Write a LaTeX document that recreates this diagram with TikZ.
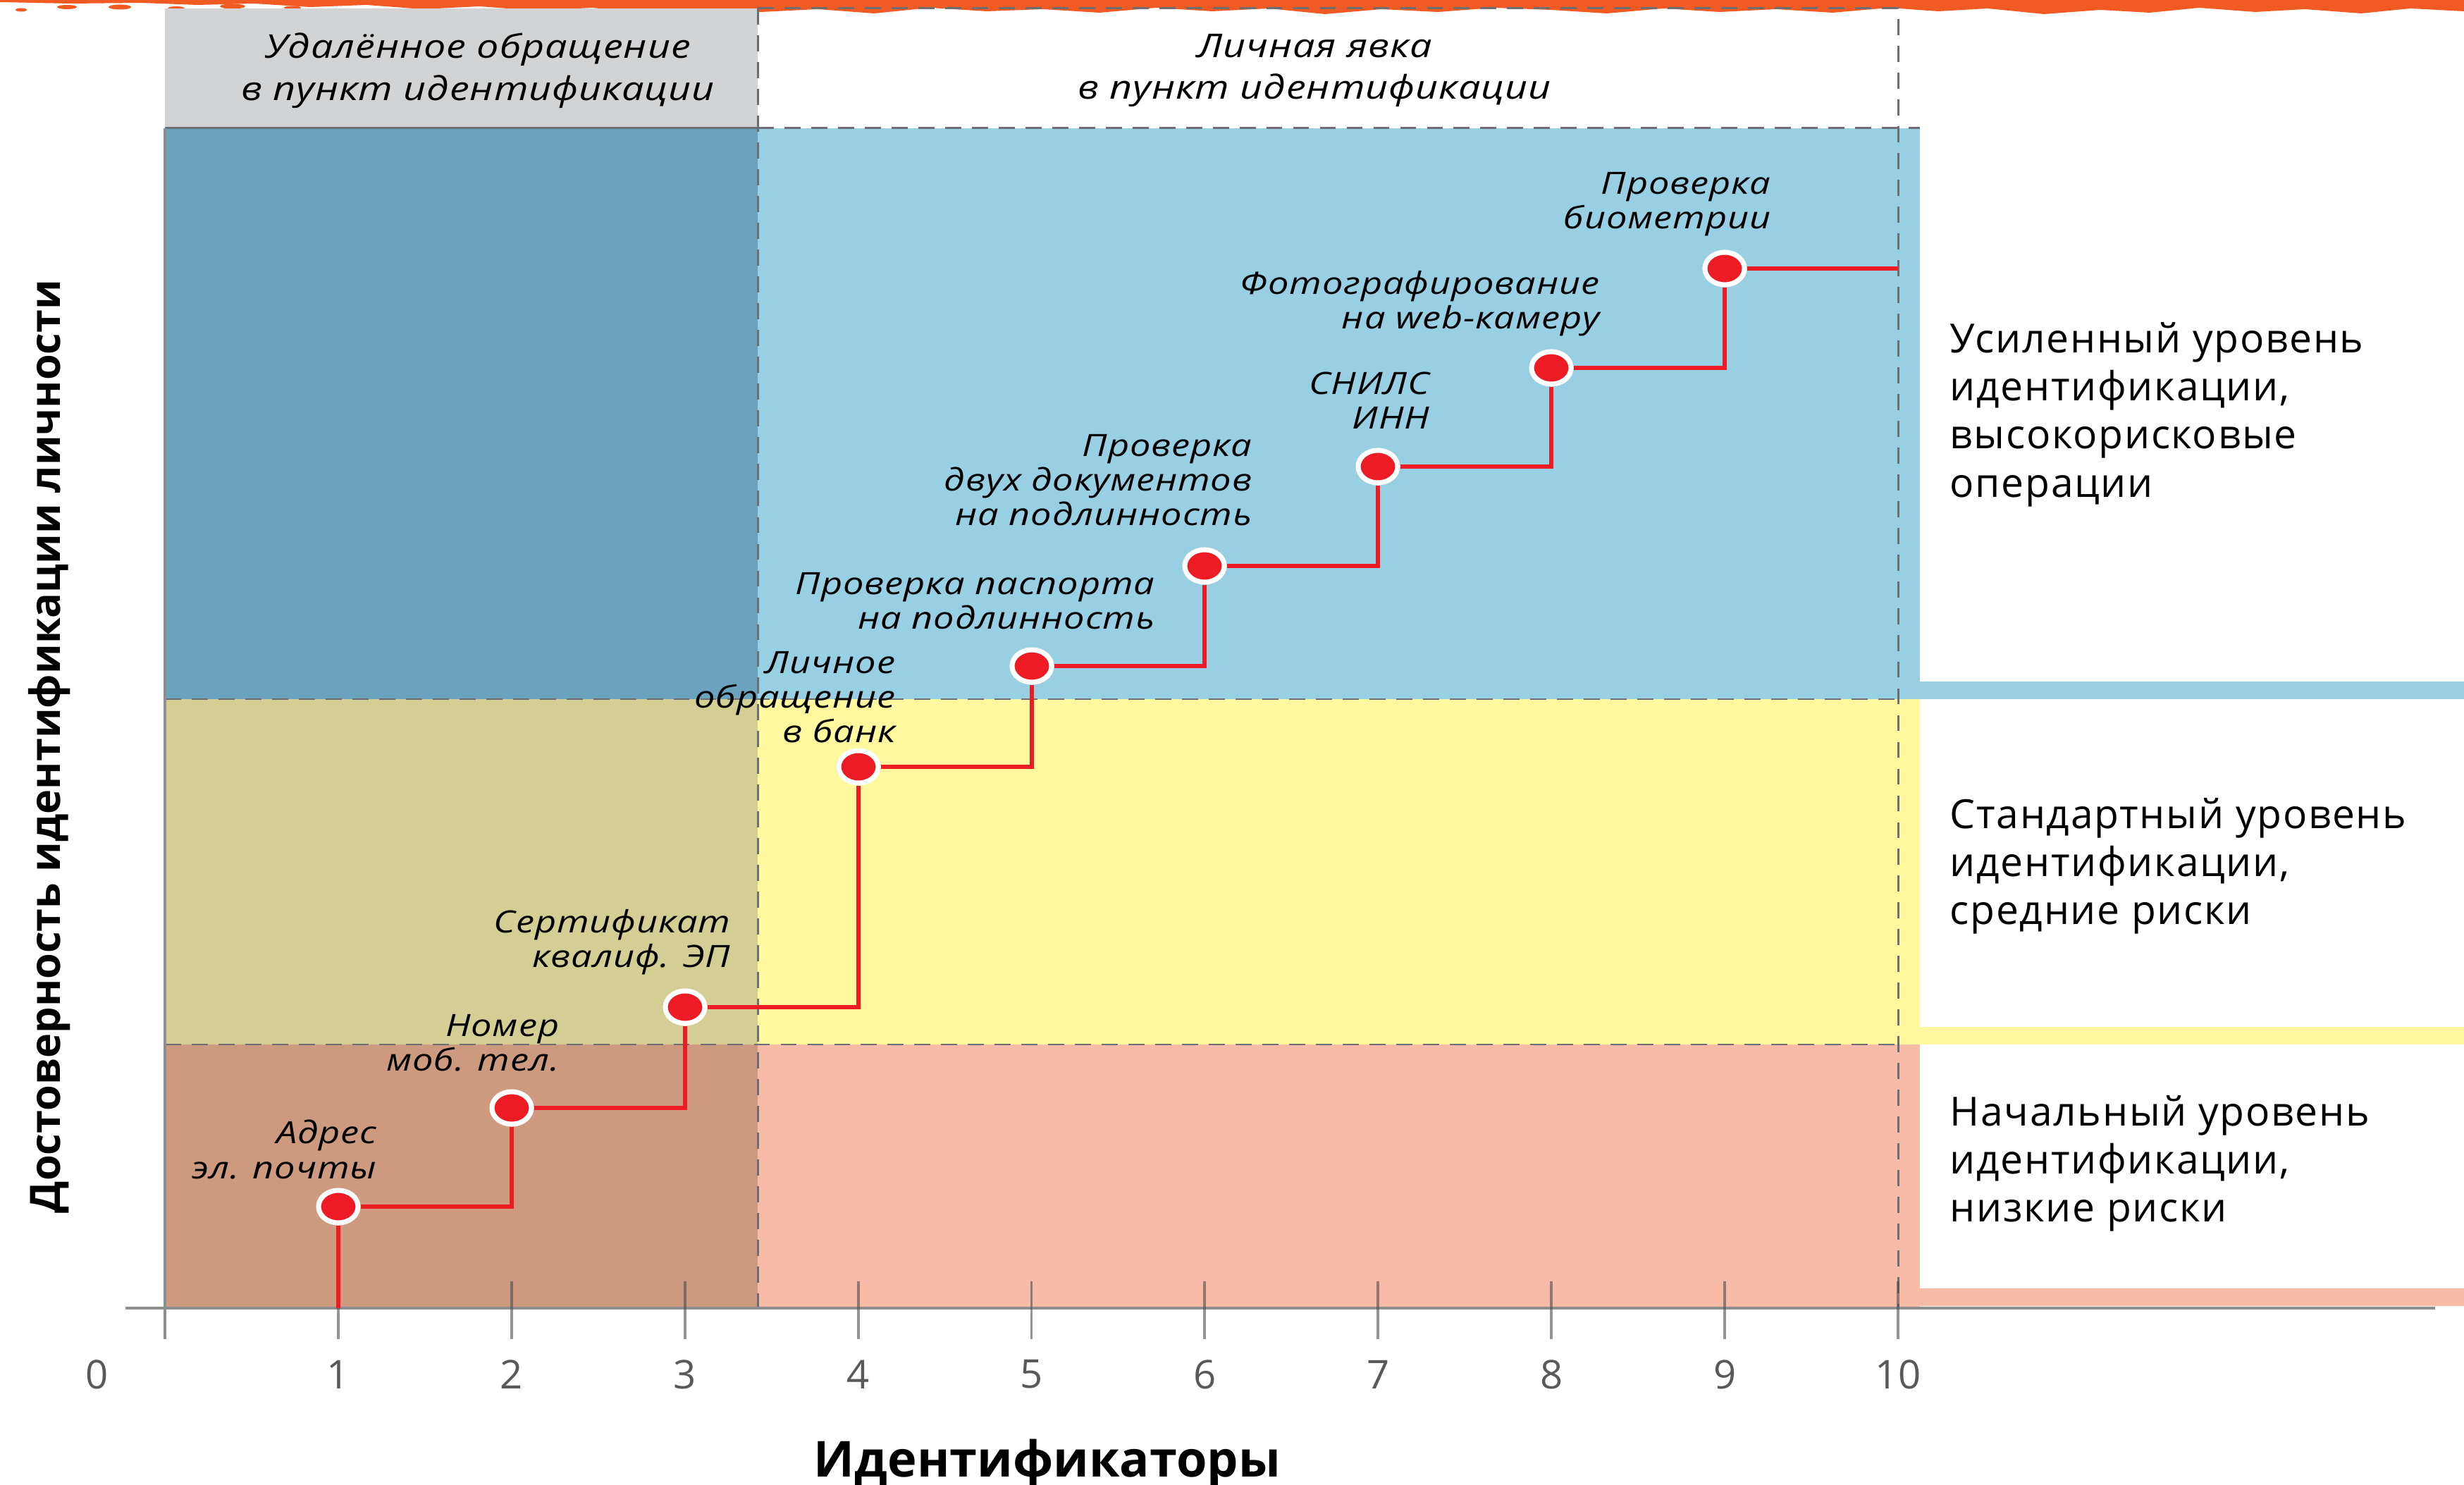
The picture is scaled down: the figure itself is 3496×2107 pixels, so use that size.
\documentclass[tikz,border=0pt]{standalone}
\usepackage{fontspec}
\setmainfont{Open Sans}
\newfontfamily\labfont[FakeStretch=1.2,LetterSpace=2]{Open Sans}
\newfontfamily\lvlfont[LetterSpace=3]{Open Sans}
\usetikzlibrary{shapes.geometric}
\definecolor{orng}{HTML}{F15A22}
\definecolor{hdrgray}{HTML}{D1D3D4}
\definecolor{dblue}{HTML}{6BA3BF}
\definecolor{lblue}{HTML}{99CFE3}
\definecolor{dyel}{HTML}{D4CE95}
\definecolor{lyel}{HTML}{FFF89F}
\definecolor{dpink}{HTML}{CE9A7F}
\definecolor{lpink}{HTML}{F8BBA8}
\definecolor{mred}{HTML}{ED1C24}
\definecolor{dashgray}{HTML}{6D6E71}
\definecolor{axgray}{HTML}{8C8E90}
\definecolor{numgray}{HTML}{58595B}
\definecolor{tickdark}{HTML}{4D4D4D}
\begin{document}
\begin{tikzpicture}[x=0.01cm,y=-0.01cm,
  dline/.style={dashgray,line width=0.85pt,dash pattern=on 6.5pt off 4.3pt},
  redline/.style={mred,line width=1.7pt},
  marker/.style={ellipse,fill=mred,draw=white,line width=2pt,minimum width=0.56cm,minimum height=0.46cm,inner sep=0pt},
  lab/.style={font=\labfont\itshape\fontsize{12.4}{14}\selectfont,align=right,anchor=east,inner sep=0pt},
  hdr/.style={font=\labfont\itshape\fontsize{13.2}{17}\selectfont,align=center,inner sep=0pt},
  lvl/.style={font=\lvlfont\fontsize{16.2}{19.4}\selectfont,align=left,anchor=west,inner sep=0pt},
  num/.style={font=\fontsize{16}{19}\selectfont,text=numgray,inner sep=0pt},
  ttl/.style={font=\bfseries\fontsize{20}{24}\selectfont,inner sep=0pt,anchor=base},
  tickln/.style={tickdark,opacity=0.6,line width=1.1pt}
]
\useasboundingbox (0,0) rectangle (3496,2107);
\fill[white] (0,0) rectangle (3496,2107);
% orange brush stroke
\fill[orng] (0,-5) -- (3496,-5) -- (3496,16) -- (3420,12) -- (3350,19) -- (3270,13) -- (3200,17) -- (3120,11) -- (3050,18) -- (2980,14) -- (2900,20) -- (2820,12) -- (2750,16) -- (2680,11) -- (2600,18) -- (2520,13) -- (2440,17) -- (2360,12) -- (2280,19) -- (2200,14) -- (2120,11) -- (2040,17) -- (1960,13) -- (1880,20) -- (1800,12) -- (1720,16) -- (1640,11) -- (1560,18) -- (1480,13) -- (1400,16) -- (1320,11) -- (1240,19) -- (1160,13) -- (1080,17) -- (1000,12) -- (920,18) -- (840,11) -- (760,15) -- (680,9) -- (600,13) -- (520,7) -- (440,10) -- (360,5) -- (280,7) -- (200,4) -- (100,5) -- (0,3) -- cycle;
\fill[orng] (30,14) ellipse (8 and 2.5);
\fill[orng] (95,10) ellipse (14 and 3);
\fill[orng] (170,10) ellipse (16 and 3.5);
\fill[orng] (250,12) ellipse (12 and 3);
\fill[orng] (330,9) ellipse (18 and 3.5);
\fill[orng] (415,11) ellipse (12 and 2.5);
\fill[orng] (560,15) ellipse (20 and 3);
% header
\fill[hdrgray] (234,12) rectangle (1075,182);
% bands
\fill[dblue] (234,182) rectangle (1075,992);
\fill[lblue] (1075,182) rectangle (2724,992);
\fill[lblue] (2724,967) rectangle (3496,992);
\fill[dyel] (234,992) rectangle (1075,1482);
\fill[lyel] (1075,992) rectangle (2724,1482);
\fill[lyel] (2724,1457) rectangle (3496,1482);
\fill[dpink] (234,1482) rectangle (1075,1856);
\fill[lpink] (1075,1482) rectangle (2724,1856);
\fill[lpink] (2724,1828) rectangle (3496,1853);
% grid lines
\draw[dashgray,line width=0.85pt] (234,182) -- (1075,182);
\draw[dline] (1075,182) -- (2724,182);
\draw[dline] (1075,12) -- (2693,12) -- (2693,1856);
\draw[dline] (1075,12) -- (1075,1856);
\draw[dline] (234,992) -- (2693,992);
\draw[dline] (234,1482) -- (2693,1482);
% axes
\draw[axgray,line width=1.1pt] (234,182) -- (234,1900);
\draw[axgray,line width=1.4pt] (178,1856) -- (3455,1856);
\foreach \i in {1,...,10} {
  \draw[tickln] ({234+245.9*\i},1818) -- ({234+245.9*\i},1900);
  \node[num] (n\i) at ({234+245.9*\i},1950) {\i};
}
\node[num] (n0) at (138,1950) {0};
% markers
\node[marker] (m1) at (480,1712) {};
\node[marker] (m2) at (726,1572) {};
\node[marker] (m3) at (972,1429) {};
\node[marker] (m4) at (1218,1088) {};
\node[marker] (m5) at (1464,945) {};
\node[marker] (m6) at (1709,803) {};
\node[marker] (m7) at (1955,662) {};
\node[marker] (m8) at (2201,522) {};
\node[marker] (m9) at (2447,381) {};
\coordinate (c0) at (480,1856);
\coordinate (cend) at (2693,381);
\draw[redline] (c0) -- (m1);
\draw[redline] (m1) -| (m2);
\draw[redline] (m2) -| (m3);
\draw[redline] (m3) -| (m4);
\draw[redline] (m4) -| (m5);
\draw[redline] (m5) -| (m6);
\draw[redline] (m6) -| (m7);
\draw[redline] (m7) -| (m8);
\draw[redline] (m8) -| (m9);
\draw[redline] (m9) -- (cend);
% marker labels
\node[lab] (l1) at (535,1631) {Адрес\\эл. почты};
\node[lab] (l2) at (794,1480) {Номер\\моб. тел.};
\node[lab] (l3) at (1037,1337) {Сертификат\\квалиф. ЭП};
\node[lab] (l4) at (1271,989) {Личное\\обращение\\в банк};
\node[lab] (l5) at (1639,853) {Проверка паспорта\\на подлинность};
\node[lab] (l6) at (1777,681) {Проверка\\двух документов\\на подлинность};
\node[lab] (l7) at (2029,568) {СНИЛС\\ИНН};
\node[lab] (l8) at (2270,431) {Фотографирование\\на web-камеру};
\node[lab] (l9) at (2513,290) {Проверка\\биометрии};
% headers
\node[hdr] (h1) at (678,100) {Удалённое обращение\\в пункт идентификации};
\node[hdr] (h2) at (1865,100) {Личная явка\\в пункт идентификации};
% level labels
\node[lvl] (v1) at (2766,588) {Усиленный уровень\\идентификации,\\высокорисковые\\операции};
\node[lvl] (v2) at (2766,1229) {Стандартный уровень\\идентификации,\\средние риски};
\node[lvl] (v3) at (2766,1651) {Начальный уровень\\идентификации,\\низкие риски};
% axis titles
\node[ttl] (tx) at (1486,2095) {Идентификаторы};
\node[ttl,font=\bfseries\fontsize{16.9}{20}\selectfont,rotate=90] (ty) at (85,1059) {Достоверность идентификации личности};
\end{tikzpicture}
\end{document}
